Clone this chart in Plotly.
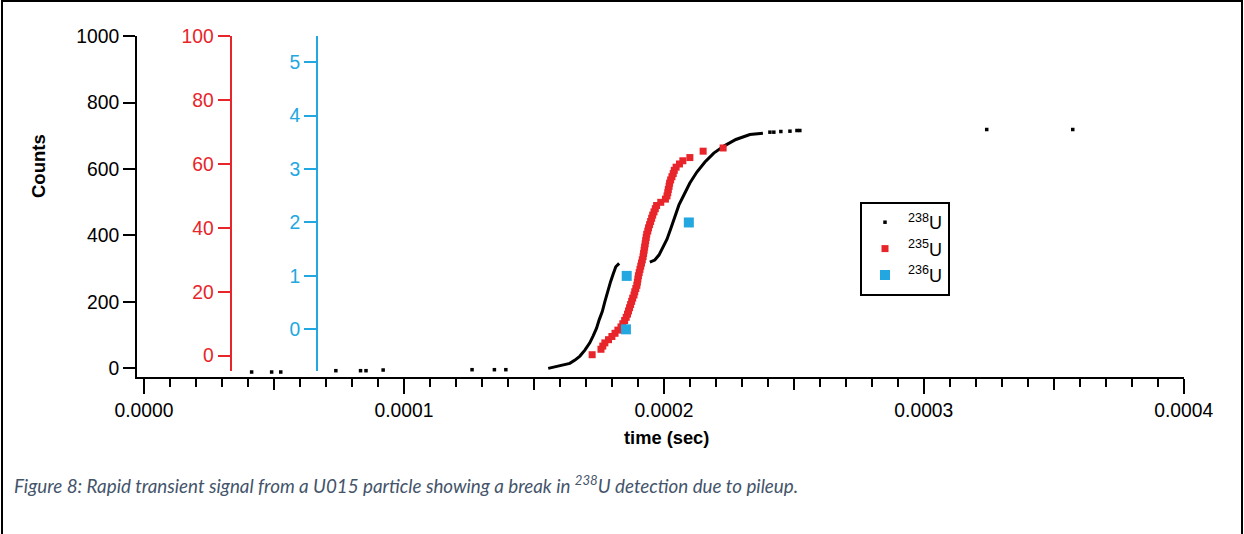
import plotly.graph_objects as go
import numpy as np

US = 1e-6  # microseconds -> seconds

# ---------------- data ----------------
# 238U: sparse single events (time in µs, cumulative counts)
u238_sparse_t_us = [41.4, 49.1, 52.6, 73.8, 83.3, 85.4, 92.0, 126.2, 134.8, 139.2,
                    240.8, 242.3, 245.0, 248.5, 251.2, 252.3, 324.2, 357.3]
u238_sparse_counts = [-11, -11, -11, -7, -7, -7, -5, -4, -4, -4,
                      711, 711, 713, 714, 716, 716, 719, 719]

# 238U: dense part before the pileup break
u238_seg1_t_us = [155.5, 158.1, 160.0, 161.9, 163.8, 165.8, 167.7, 169.6, 171.5, 172.8,
                  174.1, 175.1, 176.3, 177.3, 178.3, 179.5, 180.5, 181.5, 182.8]
u238_seg1_counts = [0, 5, 8, 10, 15, 25, 37, 55, 77, 98,
                    121, 146, 171, 201, 231, 261, 284, 306, 316]

# 238U: dense part after the pileup break
u238_seg2_t_us = [194.6, 196.5, 198.1, 199.6, 201.2, 202.7, 204.2, 205.8, 207.7, 210.0,
                  212.7, 215.8, 219.2, 223.1, 227.7, 233.1, 238.1]
u238_seg2_counts = [320, 326, 341, 362, 389, 422, 459, 492, 522, 558,
                    591, 621, 648, 669, 689, 704, 708]

# 235U events (time in µs, cumulative counts)
u235_t_us = [172.4, 175.8, 176.5, 177.3, 178.7, 180.0, 181.2, 182.3, 183.5, 184.2,
             184.9, 185.5, 186.0, 186.4, 186.8, 187.2, 187.6, 188.0, 188.5, 188.8,
             189.2, 189.6, 189.8, 190.0, 190.2, 190.5, 190.8, 191.1, 191.4, 191.7,
             192.0, 192.2, 192.4, 192.6, 192.8, 193.0, 193.2, 193.4, 193.8, 194.1,
             194.5, 194.9, 195.3, 195.7, 196.2, 196.7, 197.2, 198.8, 200.6, 201.2,
             201.5, 201.7, 202.0, 202.2, 202.6, 203.1, 203.6, 204.0, 204.7, 206.0,
             207.3, 210.0, 215.1, 222.8]
u235_counts = [0.3, 2, 3, 4, 5, 6, 7, 8, 9, 10,
               11, 12, 13, 14, 15, 16, 17, 18, 19, 20,
               21, 22, 23, 24, 25, 26, 27, 28, 29, 30,
               31, 32, 33, 34, 35, 36, 37, 38, 39, 40,
               41, 42, 43, 44, 45, 46, 47, 48, 49, 50,
               51, 52, 53, 54, 55, 56, 57, 58, 59, 60,
               61, 62, 64, 65]

# 236U events
u236_t_us = [185.4, 185.7, 209.6]
u236_counts = [0, 1, 2]

x_ticks = [0.0, 0.0001, 0.0002, 0.0003, 0.0004]

# ---------------- styling ----------------
RED = "#E8252A"
BLUE = "#22A7E0"
FONT = "Liberation Sans"
TICK_SIZE = 19.3

fig = go.Figure()

fig.add_trace(go.Scatter(
    x=np.array(u238_seg1_t_us) * US, y=u238_seg1_counts, mode="lines",
    line=dict(color="black", width=3), showlegend=False, hoverinfo="skip"))
fig.add_trace(go.Scatter(
    x=np.array(u238_seg2_t_us) * US, y=u238_seg2_counts, mode="lines",
    line=dict(color="black", width=3), showlegend=False, hoverinfo="skip"))
fig.add_trace(go.Scatter(
    x=np.array(u238_sparse_t_us) * US, y=u238_sparse_counts, mode="markers",
    marker=dict(color="black", size=3.5, symbol="square"),
    name="<sup>238</sup>U"))
fig.add_trace(go.Scatter(
    x=np.array(u235_t_us) * US, y=u235_counts, mode="markers", yaxis="y2",
    marker=dict(color=RED, size=7, symbol="square", line=dict(width=0)),
    name="<sup>235</sup>U"))
fig.add_trace(go.Scatter(
    x=np.array(u236_t_us) * US, y=u236_counts, mode="markers", yaxis="y3",
    marker=dict(color=BLUE, size=10, symbol="square", line=dict(width=0)),
    name="<sup>236</sup>U"))
# carrier for the medium (half-decade) tick marks
fig.add_trace(go.Scatter(x=[], y=[], xaxis="x2", yaxis="y", showlegend=False,
                         hoverinfo="skip"))

W, H = 1244, 534
L, R, T, B = 137, 60, 36, 157
PW, PH = W - L - R, H - T - B


def px_x(px):
    return (px - L) / PW


def px_y(py):
    return (H - B - py) / PH


xr = [-2.7e-6, 4.001e-4]
common_y = dict(showgrid=False, zeroline=False, showline=True, linewidth=2,
                ticks="outside", ticklen=12, tickwidth=2)

fig.update_layout(
    width=W, height=H, autosize=False,
    margin=dict(l=L, r=R, t=T, b=B),
    paper_bgcolor="white", plot_bgcolor="rgba(0,0,0,0)",
    font=dict(family=FONT, color="black", size=17),
    xaxis=dict(domain=[0, 1], range=xr, anchor="y", showgrid=False, zeroline=False,
               showline=True, linewidth=2, linecolor="black",
               ticks="outside", ticklen=15, tickwidth=2, tickcolor="black",
               tickvals=x_ticks, tickformat=".4f",
               tickfont=dict(size=TICK_SIZE, family=FONT),
               minor=dict(dtick=1e-5, tick0=0, ticks="outside", ticklen=8,
                          tickwidth=1.5, tickcolor="black")),
    xaxis2=dict(overlaying="x", anchor="y", side="bottom", range=xr,
                tick0=5e-5, dtick=1e-4, ticks="outside", ticklen=12, tickwidth=1.5,
                tickcolor="black", showticklabels=False, showline=False,
                showgrid=False, zeroline=False),
    yaxis=dict(domain=[0, 1], range=[-26, 1000.5], dtick=200, tick0=0,
               linecolor="black", tickcolor="black",
               tickfont=dict(size=TICK_SIZE, color="black", family=FONT), **common_y),
    yaxis2=dict(domain=[px_y(371), 1], anchor="free", position=px_x(230.5),
                range=[-4.8, 100.05], dtick=20, tick0=0,
                linecolor=RED, tickcolor=RED,
                tickfont=dict(size=TICK_SIZE, color=RED, family=FONT), **common_y),
    yaxis3=dict(domain=[px_y(371), 1], anchor="free", position=px_x(317),
                range=[-0.78, 5.49], dtick=1, tick0=0,
                linecolor=BLUE, tickcolor=BLUE,
                tickfont=dict(size=TICK_SIZE, color=BLUE, family=FONT), **common_y),
    legend=dict(x=px_x(860), y=px_y(202), xanchor="left", yanchor="top",
                bgcolor="white", bordercolor="black", borderwidth=2,
                font=dict(size=18, family=FONT, color="black"),
                itemsizing="trace", itemwidth=36, tracegroupgap=0),
    showlegend=True,
)

fig.add_annotation(text="<b>Counts</b>", textangle=-90, showarrow=False,
                   xref="paper", yref="paper", x=px_x(38), y=px_y(166),
                   xanchor="center", yanchor="middle",
                   font=dict(size=18.5, family=FONT, color="black"))
fig.add_annotation(text="<b>time (sec)</b>", showarrow=False,
                   xref="paper", yref="paper", x=px_x(666), y=px_y(437),
                   xanchor="center", yanchor="middle",
                   font=dict(size=18.3, family=FONT, color="black"))
fig.add_annotation(
    text="<i>Figure 8: Rapid transient signal from a U015 particle showing a break in "
         "<sup>238</sup>U detection due to pileup.</i>",
    showarrow=False, xref="paper", yref="paper", x=px_x(12), y=px_y(484),
    xanchor="left", yanchor="middle",
    font=dict(size=18.8, family="Lato", color="#44546A"))

# page frame
frame = dict(type="line", xref="paper", yref="paper", line=dict(color="black", width=2))
fig.add_shape(x0=px_x(2), x1=px_x(2), y0=px_y(0), y1=px_y(534), **frame)
fig.add_shape(x0=px_x(1), x1=px_x(1243), y0=px_y(1), y1=px_y(1), **frame)
fig.add_shape(x0=px_x(1242), x1=px_x(1242), y0=px_y(0), y1=px_y(534), **frame)

fig.write_html("out.html")
